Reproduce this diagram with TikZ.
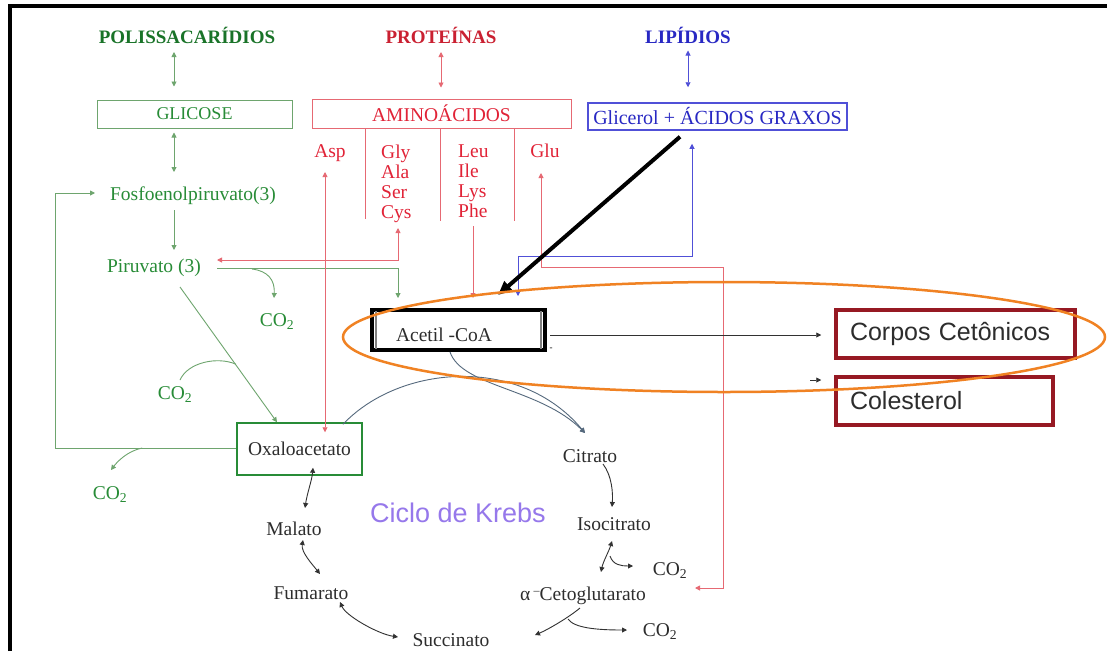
\documentclass[tikz,border=0pt]{standalone}
\usepackage{fontspec}
\setmainfont{Liberation Serif}
\newfontfamily\sansfnt{Liberation Sans}
\usetikzlibrary{arrows.meta,calc,shapes.geometric}

\definecolor{gtxt}{RGB}{40,140,55}
\definecolor{gdark}{RGB}{25,115,40}
\definecolor{gln}{RGB}{110,165,110}
\definecolor{rtxt}{RGB}{225,35,55}
\definecolor{rln}{RGB}{230,105,115}
\definecolor{btxt}{RGB}{40,40,195}
\definecolor{bln}{RGB}{80,80,215}
\definecolor{ktxt}{RGB}{45,45,45}
\definecolor{kln}{RGB}{50,50,50}
\definecolor{arcln}{RGB}{85,105,125}
\definecolor{dred}{RGB}{150,25,35}
\definecolor{lilac}{RGB}{150,120,235}
\definecolor{orng}{RGB}{240,130,35}

\begin{document}
\begin{tikzpicture}[x=1pt,y=-1pt,
  lbl/.style={inner sep=0pt, anchor=base, font=\fontsize{19.5}{20}\selectfont},
  head/.style={inner sep=0pt, anchor=base, font=\fontsize{19}{20}\selectfont\bfseries},
  sbox/.style={draw, line width=1pt, inner sep=0pt, font=\fontsize{19.5}{20}\selectfont},
  rbox/.style={draw=dred, line width=3.5pt, inner xsep=14pt, inner ysep=0pt, align=left,
    minimum height=48pt, text=ktxt, font=\sansfnt\fontsize{25}{28}\selectfont},
  arw/.style={-{Triangle[length=5pt,width=5pt]}},
  darw/.style={{Triangle[length=5pt,width=5pt]}-{Triangle[length=5pt,width=5pt]}},
  gl/.style={draw=gln, line width=0.9pt},
  rl/.style={draw=rln, line width=0.9pt},
  bl/.style={draw=bln, line width=0.9pt},
  kl/.style={draw=kln, line width=0.9pt},
  al/.style={draw=arcln, line width=0.9pt},
]
\useasboundingbox (0,0) rectangle (1107,651);
\fill[white] (0,0) rectangle (1107,651);

% frame
\draw[line width=4pt] (9.5,651) -- (9.5,6) -- (1107,6);

% headings
\node[head, text=gdark] (poly) at (187,43.5) {POLISSACARÍDIOS};
\node[head, text=rtxt!90!black] (prot) at (441,43.5) {PROTEÍNAS};
\node[head, text=btxt] (lip) at (688,43.5) {LIPÍDIOS};

% source boxes
\node[sbox, draw=gln, text=gtxt, minimum width=195pt, minimum height=28pt,
  font=\fontsize{18}{20}\selectfont] (glicose) at (194.5,114) {GLICOSE};
\node[sbox, draw=rln, text=rtxt, minimum width=259pt, minimum height=29pt] (amino) at (441.5,113.5) {AMINOÁCIDOS};
\node[sbox, draw=bln, line width=1.5pt, text=btxt, minimum width=259pt, minimum height=27pt,
  font=\fontsize{20}{20}\selectfont] (glic) at (717.5,116.5) {Glicerol + ÁCIDOS GRAXOS};

% amino acids
\node[lbl, text=rtxt] (asp) at (330,157) {Asp};
\node[lbl, text=rtxt, anchor=base west] (gly) at (381,158) {\begin{tabular}[t]{@{}l@{}}Gly\\Ala\\Ser\\Cys\end{tabular}};
\node[lbl, text=rtxt, anchor=base west] (leu) at (458,157) {\begin{tabular}[t]{@{}l@{}}Leu\\Ile\\Lys\\Phe\end{tabular}};
\node[lbl, text=rtxt] (glu) at (545,157) {Glu};

% glycolysis side
\node[lbl, text=gtxt] (fosfo) at (193,200) {Fosfoenolpiruvato(3)};
\node[lbl, text=gtxt] (piru) at (154,272) {Piruvato (3)};
\node[lbl, text=gtxt] (co2a) at (277,326) {CO\textsubscript{2}};
\node[lbl, text=gtxt] (co2b) at (175,399) {CO\textsubscript{2}};
\node[lbl, text=gtxt] (co2c) at (110,499) {CO\textsubscript{2}};
\node[sbox, draw=gtxt, line width=1.5pt, text=ktxt, minimum width=125pt, minimum height=52pt] (oxa) at (299.5,449) {Oxaloacetato};

% acetyl-CoA
\node[draw, line width=4pt, minimum width=173pt, minimum height=40pt, inner sep=0pt] (acetil) at (458.5,330) {};
\draw[gray, line width=2.5pt] ($(acetil.north west)+(6,3)$) -- ($(acetil.south west)+(6,-3)$);
\draw[gray, line width=2.5pt] ($(acetil.north east)+(-6,3)$) -- ($(acetil.south east)+(-6,-3)$);
\node[lbl, text=ktxt] (acetiltxt) at (444,341) {Acetil -CoA};
\node[inner sep=0pt, font=\fontsize{9}{9}\selectfont] (dash) at (551,349) {-};

% products
\node[rbox, text width=211pt] (corpos) at (955.5,334) {Corpos Cetônicos};
\node[rbox, text width=189pt] (colest) at (944.5,401) {Colesterol};

% Krebs cycle
\node[lbl, text=ktxt] (citrato) at (590,462) {Citrato};
\node[lbl, text=ktxt] (isocit) at (614,530) {Isocitrato};
\node[lbl, text=ktxt] (co2d) at (670,575) {CO\textsubscript{2}};
\node[lbl, text=ktxt] (alpha) at (583,600) {α\,\raisebox{0.3em}{\fontsize{12}{12}\selectfont –}Cetoglutarato};
\node[lbl, text=ktxt] (co2e) at (660,636) {CO\textsubscript{2}};
\node[lbl, text=ktxt] (succ) at (451,646) {Succinato};
\node[lbl, text=ktxt] (fum) at (311,599) {Fumarato};
\node[lbl, text=ktxt] (mal) at (294,535) {Malato};
\node[inner sep=0pt, anchor=base, text=lilac, font=\sansfnt\fontsize{27}{30}\selectfont] (krebs) at (458,522) {Ciclo de Krebs};

% green connectors
\draw[gl,darw] ($(poly.base)+(-13,8.5)$) -- ($(glicose.north)+(-20.5,-13)$);
\draw[gl,darw] ($(glicose.south)+(-20.5,4)$) -- ($(fosfo.base)+(-19,-28)$);
\draw[gl,arw] ($(fosfo.base)+(-19,10)$) -- ($(piru.base)+(20,-22)$);
\draw[gl,arw] ($(oxa.west)+(0,-1)$) -| ($(fosfo.base)+(-138,-7)$) -- ($(fosfo.base)+(-98,-7)$);
\draw[gl,arw] ($(oxa.west)+(-94,-1)$) .. controls +(-15,3) and +(6,-8) .. ($(co2c.base)+(1,-29)$);
\draw[gl,arw] ($(piru.base)+(98,-3)$) .. controls +(16,2) and +(1,-18) .. ($(co2a.base)+(-3,-28)$);
\draw[gl,arw] ($(piru.base)+(26,15)$) -- ($(oxa.north)+(-22.5,0)$);
\draw[gl] ($(co2b.base)+(5,-19)$) .. controls +(8,-18) and +(-18,-8) .. ($(oxa.north)+(-63.5,-58)$);
\draw[gl,arw] ($(piru.base)+(63,-4)$) -| ($(acetil.north)+(-60.5,-10)$);

% red connectors
\draw[rl,darw] ($(prot.base)+(0,8.5)$) -- ($(amino.north)+(-0.5,-11)$);
\foreach \dx/\len in {54/90,129/92,203/92}
  \draw[rl] ($(amino.south west)+(\dx,0)$) -- ++(0,\len);
\draw[rl,darw] ($(asp.base)+(-5,15)$) -- ($(oxa.north)+(25.5,10)$);
\draw[rl,darw] ($(piru.base)+(63,-12)$) -| ($(gly.base west)+(17,70)$);
\draw[rl,arw] ($(leu.base west)+(15,69)$) -- ($(acetil.north)+(14.5,-10)$);
\draw[rl,darw] ($(glu.base)+(-4,16)$) |- (723,267) |- ($(alpha.base)+(112,-12)$);

% blue connectors
\draw[bl,darw] ($(lip.base)+(0,7)$) -- ($(glic.north)+(-29.5,-15)$);
\draw[bl,darw] ($(glic.south)+(-25.5,13)$) |- ($(acetil.north)+(59.5,-52)$) -- ($(acetil.north)+(59.5,-12)$);

% fatty acids to acetyl-CoA
\draw[line width=4pt, -{Triangle[length=14pt,width=12pt]}] ($(glic.south)+(-37.5,6)$) -- ($(acetil.north)+(39.5,-13)$);

% acetyl-CoA products
\draw[kl,arw] ($(acetil.east)+(3,5)$) -- ($(corpos.west)+(-13,1)$);
\draw[kl,arw] ($(colest.west)+(-24,-21)$) -- ($(colest.west)+(-13,-21)$);

% Krebs cycle connectors
\draw[al,arw] ($(oxa.north)+(43.5,2)$) .. controls +(57,-60) and +(-65,-78) .. ($(citrato.base)+(-5,-29)$);
\draw[al,arw] ($(acetil.south)+(-8.5,0)$) .. controls +(12,35) and +(-45,-45) .. ($(citrato.base)+(-5,-29)$);
\draw[kl,arw] ($(citrato.base)+(13,2)$) .. controls +(9,12) and +(1,-14) .. ($(isocit.base)+(-2,-23)$);
\draw[kl,darw] ($(isocit.base)+(-2,11)$) .. controls +(-3,10) and +(2,-10) .. ($(alpha.base)+(18,-28)$);
\draw[kl,arw] ($(isocit.base)+(-4,26)$) .. controls +(3,9) and +(-12,0) .. ($(co2d.base)+(-37,-9)$);
\draw[kl,arw] ($(alpha.base)+(-3,8)$) .. controls +(-12,10) and +(12,-5) .. ($(succ.base)+(84,-11)$);
\draw[kl,arw] ($(alpha.base)+(-15,19)$) .. controls +(6,9) and +(-30,0) .. ($(co2e.base)+(-33,-6)$);
\draw[kl,darw] ($(succ.base)+(-53,-9)$) .. controls +(-20,-3) and +(6,14) .. ($(fum.base)+(29,3)$);
\draw[kl,darw] ($(fum.base)+(9,-25)$) .. controls +(-8,-10) and +(-2,12) .. ($(mal.base)+(9,5)$);
\draw[kl,darw] ($(mal.base)+(11,-27)$) .. controls +(2,-14) and +(-1,12) .. ($(oxa.south)+(13.5,-8)$);

% highlight ring
\node[draw=orng, line width=2.5pt, ellipse, minimum width=762pt, minimum height=110pt, inner sep=0pt] (ring) at (724,337) {};
\end{tikzpicture}
\end{document}
